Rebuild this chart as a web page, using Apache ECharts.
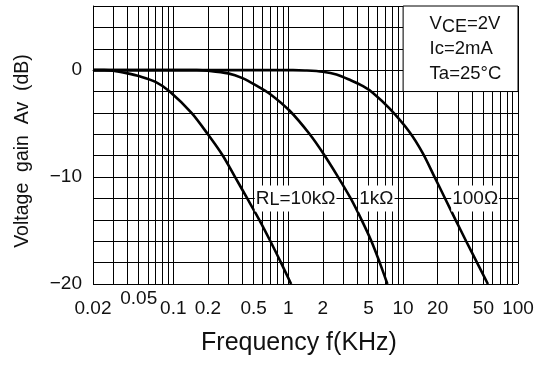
<!DOCTYPE html>
<html><head><meta charset="utf-8">
<script src="https://cdn.jsdelivr.net/npm/echarts@6/dist/echarts.min.js"></script>
<style>html,body{margin:0;padding:0;background:#fff}#c{width:543px;height:369px}</style>
</head><body><div id="c"></div>
<script>
// grid / tick values
const gridFreqs = [0.02,0.03,0.04,0.05,0.06,0.07,0.08,0.09,0.1,0.2,0.3,0.4,0.5,0.6,0.7,0.8,0.9,1,2,3,4,5,6,7,8,9,10,20,30,40,50,60,70,80,90,100];
const freqLabels = [0.02,0.1,0.2,0.5,1,2,5,10,20,50,100];
const raisedFreqLabels = [0.05];
const gainLabels = [0,-10,-20];

// RL = 10kΩ
const f10k = [0.02,0.025,0.03,0.04,0.05,0.07,0.093,0.144,0.2,0.27,0.345,0.44,0.56,0.70,0.865,1.06];
const g10k = [0,0,-0.05,-0.3,-0.55,-1.1,-2,-4,-6,-8,-10,-12,-14,-16,-18,-20];
// RL = 1kΩ
const f1k = [0.02,0.1,0.16,0.2,0.3,0.4,0.53,0.69,1.03,1.54,2.08,2.72,3.5,4.35,5.3,6.26,7.3];
const g1k = [0,0,0,-0.05,-0.3,-0.75,-1.45,-2.2,-3.8,-6,-8,-10,-12,-14,-16,-18,-20];
// RL = 100Ω
const f100 = [0.02,0.5,1.1,1.4,2,2.63,3.5,4.48,5.5,7.65,11.4,14.9,18.8,23.2,28.6,35.4,44,54.7];
const g100 = [0,0,0,-0.03,-0.15,-0.4,-0.95,-1.5,-2.15,-3.6,-5.8,-7.8,-10,-12,-14,-16,-18,-20];

const zip = (a, b) => a.map((v, i) => [v, b[i]]);
const FONT = 'Liberation Sans, Arial, sans-serif';
const fmtNum = v => String(+(+v).toPrecision(3)).replace('-', '\u2212');

const curveLabelStyle = {
  show: true, position: 'inside', color: '#111', fontFamily: FONT, fontSize: 19,
  backgroundColor: '#fff', padding: [2, 1, 2, 1],
  rich: {
    t: { fontFamily: FONT, fontSize: 19, color: '#111', lineHeight: 22 },
    s: { fontFamily: FONT, fontSize: 18, color: '#111', lineHeight: 16, verticalAlign: 'bottom' }
  }
};

function curve(name, f, g, labelText, labelCoord, extra) {
  const s = {
    name, type: 'line', data: zip(f, g), smooth: 0.3,
    showSymbol: false, lineStyle: { color: '#000', width: 2.6 }, z: 3,
    markPoint: {
      symbol: 'circle', symbolSize: 1, itemStyle: { color: 'rgba(0,0,0,0)' },
      label: curveLabelStyle,
      data: [{ coord: labelCoord, label: { formatter: labelText } }]
    }
  };
  return Object.assign(s, extra || {});
}

const option = {
  animation: false,
  backgroundColor: '#fff',
  grid: { left: 93, right: 25, top: 6, bottom: 85 },
  xAxis: [{
    type: 'log', logBase: 10, min: 0.02, max: 100, position: 'bottom',
    name: 'Frequency f(KHz)', nameLocation: 'middle', nameGap: 47,
    nameTextStyle: { fontFamily: FONT, fontSize: 25, color: '#111', padding: [0, 13, 0, 0] },
    axisLine: { show: true, lineStyle: { color: '#000', width: 1 } },
    axisTick: { show: false, customValues: gridFreqs },
    splitLine: { show: true, lineStyle: { color: '#000', width: 1 } },
    minorTick: { show: false }, minorSplitLine: { show: false },
    axisLabel: { customValues: freqLabels, margin: 15, fontFamily: FONT, fontSize: 19, color: '#111', formatter: fmtNum }
  }, {
    type: 'log', logBase: 10, min: 0.02, max: 100, position: 'bottom',
    axisLine: { show: false }, axisTick: { show: false }, splitLine: { show: false },
    axisLabel: { customValues: raisedFreqLabels, margin: 5, fontFamily: FONT, fontSize: 19, color: '#111', formatter: fmtNum }
  }],
  yAxis: {
    type: 'value', min: -20, max: 6, interval: 2,
    name: 'Voltage  gain  Av  (dB)', nameLocation: 'middle', nameGap: 60,
    nameTextStyle: { fontFamily: FONT, fontSize: 19.5, color: '#111', padding: [0, 12, 0, 0] },
    axisLine: { show: true, lineStyle: { color: '#000', width: 1 } },
    axisTick: { show: false },
    splitLine: { show: true, lineStyle: { color: '#000', width: 1 } },
    axisLabel: {
      margin: 11, fontFamily: FONT, fontSize: 19, color: '#111',
      formatter: v => gainLabels.includes(v) ? fmtNum(v) : ''
    }
  },
  series: [
    curve('10k', f10k, g10k, '{t|R}{s|L}{t|=10kΩ}', [1.16, -12]),
    curve('1k', f1k, g1k, '{t|1kΩ}', [5.86, -12]),
    curve('100', f100, g100, '{t|100Ω}', [42.4, -12], {
      markArea: {
        silent: true,
        itemStyle: { color: '#fff', borderColor: '#000', borderWidth: 1 },
        label: {
          show: true, position: [27, 6], align: 'left', verticalAlign: 'top',
          formatter: '{n|V}{s|CE}{n|=2V}\n{n|Ic=2mA}\n{n|Ta=25°C}',
          rich: {
            n: { fontFamily: FONT, fontSize: 18.5, color: '#111', lineHeight: 25 },
            s: { fontFamily: FONT, fontSize: 18, color: '#111', lineHeight: 17, verticalAlign: 'bottom' }
          }
        },
        data: [[{ coord: [10, -2] }, { coord: [100, 6] }]]
      }
    })
  ]
};

echarts.init(document.getElementById('c')).setOption(option);
</script></body></html>
